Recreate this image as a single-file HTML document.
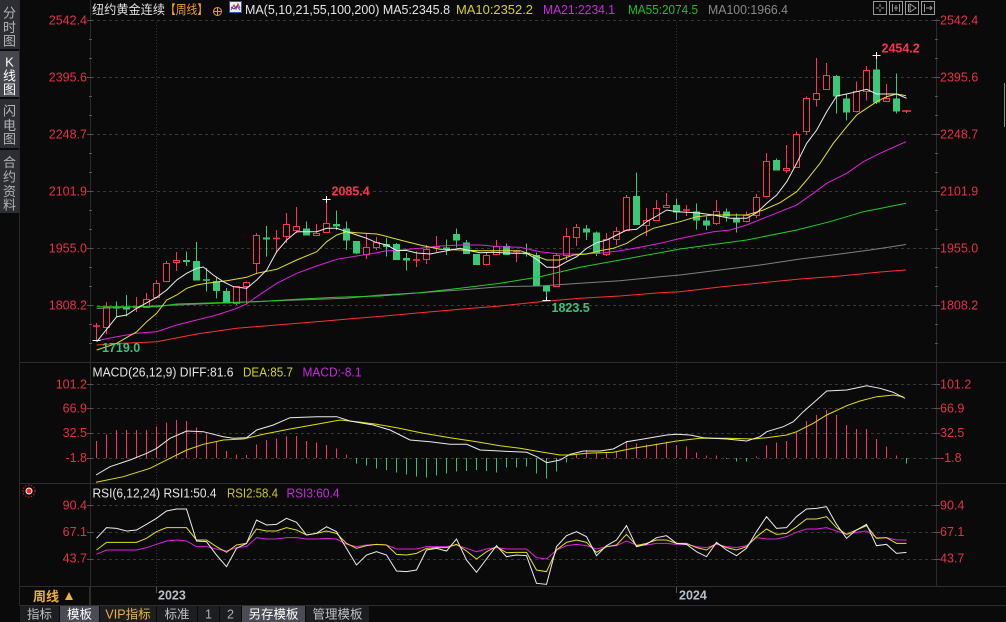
<!DOCTYPE html>
<html><head><meta charset="utf-8">
<style>
html,body{margin:0;padding:0;background:#0a0a0a;width:1006px;height:622px;overflow:hidden}
svg{display:block}
text{font-family:"Liberation Sans","Noto Sans CJK SC",sans-serif;dominant-baseline:central}
</style></head><body>
<svg width="1006" height="622" viewBox="0 0 1006 622" xmlns="http://www.w3.org/2000/svg" font-size="12.5">
<rect width="1006" height="622" fill="#0a0a0a"/>

<!-- sidebar -->
<rect x="0" y="0" width="19" height="49" fill="#2d2e33"/>
<rect x="0" y="51" width="19" height="46" fill="#45464d"/>
<rect x="0" y="99" width="19" height="49" fill="#2d2e33"/>
<rect x="0" y="150" width="19" height="63" fill="#2d2e33"/>
<path d="M19.5 0V606" stroke="#2a2a2a"/>
<g font-size="13" text-anchor="middle" fill="#b4b4b4">
<text x="9.5" y="13">分</text><text x="9.5" y="27.5">时</text><text x="9.5" y="41">图</text>
<text x="9.5" y="62" fill="#ffffff">K</text><text x="9.5" y="76" fill="#ffffff">线</text><text x="9.5" y="89.5" fill="#ffffff">图</text>
<text x="9.5" y="111">闪</text><text x="9.5" y="125.5">电</text><text x="9.5" y="139">图</text>
<text x="9.5" y="162.5">合</text><text x="9.5" y="177">约</text><text x="9.5" y="191.5">资</text><text x="9.5" y="205">料</text>
</g>

<!-- grid -->
<g stroke="#383838" stroke-dasharray="3 3" fill="none">
<path d="M91 20.5H936M91 77.5H936M91 134.5H936M91 191.5H936M91 248.5H936M91 305.5H936"/>
<path d="M91 384.5H936M91 408.5H936M91 433.5H936M91 458.5H936"/>
<path d="M91 505.5H936M91 532.5H936M91 559.5H936"/>
</g>
<path d="M156.5 22V586M676.5 22V586" stroke="#353535" stroke-dasharray="1 2"/>

<!-- axes / separators -->
<path d="M90.5 0V606M936.5 18V586" stroke="#2c2c2c"/>
<path d="M20 362.5H1006M20 483.5H1006M20 586.5H1006M20 605.5H1006" stroke="#2e2e2e"/>
<g stroke="#555">
<path d="M87 20.5H93M87 77.5H93M87 134.5H93M87 191.5H93M87 248.5H93M87 305.5H93M87 384.5H93M87 408.5H93M87 433.5H93M87 458.5H93M87 505.5H93M87 532.5H93M87 559.5H93"/>
<path d="M934 20.5H940M934 77.5H940M934 134.5H940M934 191.5H940M934 248.5H940M934 305.5H940M934 384.5H940M934 408.5H940M934 433.5H940M934 458.5H940M934 505.5H940M934 532.5H940M934 559.5H940"/>
<path d="M89 39.5H92M89 58.5H92M89 96.5H92M89 115.5H92M89 153.5H92M89 172.5H92M89 210.5H92M89 229.5H92M89 267.5H92M89 286.5H92M89 324.5H92M89 343.5H92"/>
<path d="M935 39.5H938M935 58.5H938M935 96.5H938M935 115.5H938M935 153.5H938M935 172.5H938M935 210.5H938M935 229.5H938M935 267.5H938M935 286.5H938M935 324.5H938M935 343.5H938"/>
</g>
<path d="M1004.5 83V127" stroke="#8a8a8a"/>

<!-- axis labels -->
<g fill="#e5304a" text-anchor="end">
<text x="87" y="20.5">2542.4</text><text x="87" y="77.5">2395.6</text><text x="87" y="134.5">2248.7</text>
<text x="87" y="191.5">2101.9</text><text x="87" y="248.5">1955.0</text><text x="87" y="305.5">1808.2</text>
<text x="87" y="384.5">101.2</text><text x="87" y="408.5">66.9</text><text x="87" y="433">32.5</text><text x="87" y="458">-1.8</text>
<text x="87" y="505.5">90.4</text><text x="87" y="532">67.1</text><text x="87" y="558.5">43.7</text>
</g>
<g fill="#e5304a">
<text x="940" y="20.5">2542.4</text><text x="940" y="77.5">2395.6</text><text x="940" y="134.5">2248.7</text>
<text x="940" y="191.5">2101.9</text><text x="940" y="248.5">1955.0</text><text x="940" y="305.5">1808.2</text>
<text x="940" y="384.5">101.2</text><text x="940" y="408.5">66.9</text><text x="940" y="433">32.5</text><text x="940" y="458">-1.8</text>
<text x="940" y="505.5">90.4</text><text x="940" y="532">67.1</text><text x="940" y="558.5">43.7</text>
</g>

<!-- header -->
<text x="92" y="10" fill="#e0e0e0" textLength="73" lengthAdjust="spacingAndGlyphs">纽约黄金连续</text>
<text x="165" y="10" fill="#f0a030" textLength="43" lengthAdjust="spacingAndGlyphs">【周线】</text>
<circle cx="217.5" cy="11.5" r="4" fill="none" stroke="#e0a030"/>
<path d="M213.5 11.5H221.5M217.5 7.5V15.5" stroke="#e0a030"/>
<rect x="229.5" y="1.5" width="12" height="11" fill="#f0f0f0" stroke="#3050c0"/>
<polyline points="231,10 234,5 236,9 238,4 240,8" fill="none" stroke="#e02020"/>
<polyline points="231,7 234,9 237,6 240,10" fill="none" stroke="#2040d0"/>
<text x="245" y="10" fill="#e6e6e6" textLength="205" lengthAdjust="spacingAndGlyphs">MA(5,10,21,55,100,200) MA5:2345.8</text>
<text x="456" y="10" fill="#d4d41c" textLength="77" lengthAdjust="spacingAndGlyphs">MA10:2352.2</text>
<text x="543" y="10" fill="#c828e0" textLength="72" lengthAdjust="spacingAndGlyphs">MA21:2234.1</text>
<text x="628" y="10" fill="#22c022" textLength="70" lengthAdjust="spacingAndGlyphs">MA55:2074.5</text>
<text x="708" y="10" fill="#8a8a8a" textLength="80" lengthAdjust="spacingAndGlyphs">MA100:1966.4</text>

<!-- top right icons -->
<g fill="none" stroke="#9a9a9a">
<rect x="873.5" y="1.5" width="13" height="13"/><rect x="889.5" y="1.5" width="13" height="13"/>
<rect x="905.5" y="1.5" width="13" height="13"/><rect x="921.5" y="1.5" width="13" height="13"/>
<path d="M880 4V7M880 9V12M876 8H879M881 8H884"/>
<path d="M892.5 4V12M899.5 4V12M894 8H898M896 5V11"/>
<path d="M908.5 4V12M910 4L916 8L910 12Z"/>
<path d="M924.5 4V12M926 8H932M930 6L932 8L930 10"/>
</g>

<!-- candles: green -->
<g stroke="#38c878" fill="none">
<path d="M116.5 301.5V316.5M126.5 295V316.5M186.5 251.5V266M196.5 242V280.5M206.5 268V291.5M216.5 277.5V298.5M226.5 288V303.5M266.5 226V256.5M306.5 221.5V235.5M336.5 210.5V230M346.5 221.5V250M356.5 241V254M386.5 238V256.5M396.5 243V260M406.5 253V270.5M446.5 239.5V255M456.5 228.5V247.5M466.5 240V254M476.5 254V265M506.5 243.5V255M526.5 243.5V256.5M536.5 252.5V286M546.5 285V300M586.5 225V240M596.5 231.5V256M636.5 172.5V225M676.5 198.5V220M696.5 203.5V229.5M706.5 216.5V230M726.5 208.5V221.5M736.5 213.5V232.5M776.5 158.5V170.5M836.5 75V113.5M846.5 93.5V120.5M876.5 55V104M896.5 73.5V113.5"/>
<path d="M203 280H210M523 253.5H530" stroke-width="1.5"/>
</g>
<g fill="#38c878">
<rect x="113" y="306.5" width="7" height="2"/><rect x="123" y="306.5" width="7" height="3"/>
<rect x="183" y="260" width="7" height="2"/><rect x="193" y="261" width="7" height="19.5"/>
<rect x="213" y="281" width="7" height="10"/><rect x="223" y="291" width="7" height="12.5"/>
<rect x="263" y="237.5" width="7" height="2"/><rect x="303" y="228.5" width="7" height="7"/>
<rect x="333" y="224" width="7" height="2.5"/><rect x="343" y="228.5" width="7" height="12"/>
<rect x="353" y="241" width="7" height="12.5"/><rect x="383" y="244" width="7" height="3"/>
<rect x="393" y="244" width="7" height="16"/><rect x="403" y="258" width="7" height="2.5"/>
<rect x="443" y="247.5" width="7" height="2"/><rect x="453" y="234" width="7" height="6.5"/>
<rect x="463" y="242.5" width="7" height="11.5"/><rect x="473" y="254" width="7" height="11"/>
<rect x="503" y="246" width="7" height="9"/><rect x="533" y="255" width="7" height="31"/>
<rect x="543" y="286" width="7" height="5.5"/><rect x="583" y="228.5" width="7" height="4"/>
<rect x="593" y="232.5" width="7" height="21.5"/><rect x="633" y="196" width="7" height="29"/>
<rect x="673" y="205" width="7" height="7.5"/><rect x="693" y="211.5" width="7" height="9"/>
<rect x="703" y="220.5" width="7" height="5"/><rect x="723" y="211.5" width="7" height="5"/>
<rect x="733" y="218.5" width="7" height="4"/><rect x="773" y="160" width="7" height="10.5"/>
<rect x="833" y="76" width="7" height="20.5"/><rect x="843" y="98.5" width="7" height="14"/>
<rect x="873" y="69.5" width="7" height="33"/><rect x="893" y="98.5" width="7" height="13"/>
</g>

<!-- candles: red -->
<g stroke="#ff3355" fill="none">
<path d="M96.5 323V340M106.5 302V334M136.5 297V312M146.5 293V308M156.5 280V297.5M166.5 261V282M176.5 252V271M236.5 286V305M246.5 281.5V304M256.5 233V274M276.5 230V253M286.5 213V243M296.5 207V233M316.5 224V236M326.5 199V233M366.5 233V259M376.5 237V250M416.5 251V267M426.5 245V264M436.5 236V252M486.5 253V265.5M496.5 240V255M516.5 250V262M556.5 254V287M566.5 228V260M576.5 224V246M606.5 233V256M616.5 227V245M626.5 195V230.5M646.5 208V236M656.5 200V221M666.5 193V207M686.5 205V216M716.5 200V225M746.5 211.5V222.5M756.5 194V218M766.5 153V196.5M786.5 145V173M796.5 131.5V167.5M806.5 96.5V135M816.5 58V106.5M826.5 63V89.5M856.5 81.5V112.5M866.5 66V100.5M886.5 84V101.5M906.5 110V113"/>
<path d="M93 326H100M133 307.5H140M273 238.5H280M413 260H420M433 247H440M513 251.5H520M683 210H690M902 111H911" stroke-width="1.5"/>
</g>
<g stroke="#ff3355" fill="#0a0a0a">
<rect x="103.5" y="307.5" width="6" height="20"/><rect x="143.5" y="299.5" width="6" height="8"/>
<rect x="153.5" y="283.5" width="6" height="14"/><rect x="163.5" y="263.5" width="6" height="18"/>
<rect x="173.5" y="260.5" width="6" height="2"/><rect x="233.5" y="286.5" width="6" height="17"/>
<rect x="243.5" y="282.5" width="6" height="4"/><rect x="253.5" y="235.5" width="6" height="28"/>
<rect x="283.5" y="224.5" width="6" height="12"/><rect x="293.5" y="226.5" width="6" height="4"/>
<rect x="313.5" y="233.5" width="6" height="2"/><rect x="323.5" y="223.5" width="6" height="9"/>
<rect x="363.5" y="247.5" width="6" height="7"/><rect x="373.5" y="242.5" width="6" height="5"/>
<rect x="423.5" y="249.5" width="6" height="10"/><rect x="483.5" y="255.5" width="6" height="9"/>
<rect x="493.5" y="246.5" width="6" height="8"/><rect x="553.5" y="255.5" width="6" height="31"/>
<rect x="563.5" y="236.5" width="6" height="19"/><rect x="573.5" y="227.5" width="6" height="10"/>
<rect x="603.5" y="239.5" width="6" height="15"/><rect x="613.5" y="231.5" width="6" height="8"/>
<rect x="623.5" y="197.5" width="6" height="33"/><rect x="643.5" y="220.5" width="6" height="5"/>
<rect x="653.5" y="208.5" width="6" height="12"/><rect x="663.5" y="205.5" width="6" height="2"/>
<rect x="713.5" y="211.5" width="6" height="12"/><rect x="743.5" y="215.5" width="6" height="6"/>
<rect x="753.5" y="197.5" width="6" height="18"/><rect x="763.5" y="161.5" width="6" height="35"/>
<rect x="783.5" y="168.5" width="6" height="2"/><rect x="793.5" y="134.5" width="6" height="33"/>
<rect x="803.5" y="98.5" width="6" height="33"/><rect x="813.5" y="93.5" width="6" height="6"/>
<rect x="823.5" y="75.5" width="6" height="14"/><rect x="853.5" y="91.5" width="6" height="20"/>
<rect x="863.5" y="70.5" width="6" height="21"/><rect x="883.5" y="98.5" width="6" height="3"/>
</g>

<!-- MA lines -->
<g fill="none" stroke-width="1">
<polyline stroke="#ff3030" points="96.7,345 118,343.5 156.7,341.7 196.7,334 236.7,328.3 276.7,325 316.7,321.7 356.7,318.3 385,316 420,312.7 460,309.3 500,306 540,301.7 580,298.3 620,296 660,292.7 680,291.7 720,287 760,283 800,279 840,276 880,272 906,270"/>
<polyline stroke="#808080" points="96.7,308.5 176.7,305 256.7,301.5 346.7,298.3 380,295 420,292.7 460,290 500,286.7 540,286 580,283.3 620,280.7 660,276.7 680,275 720,270 760,265 800,259 840,254 870,250 906,244.5"/>
<polyline stroke="#20d020" points="96.7,306.7 156.7,306.7 176.7,304 216.7,302.7 256.7,301.7 296.7,299.3 336.7,297.3 380,296 420,292.7 460,288.3 500,283.3 540,276.7 580,267.3 620,260 660,252.7 680,249 746.7,240 796.7,230 830,221.7 863.3,211.7 906,203.3"/>
<polyline stroke="#e020e0" points="96.7,340.7 116.7,336.7 136.7,333.3 156.7,331.7 176.7,325 196.7,320 216.7,315 236.7,308.3 246.7,304 256.7,296.7 276.7,283.3 296.7,273.3 316.7,266 336.7,259.3 356.7,256 376.7,252.7 385,251 400,250 420,248.3 440,246 460,245 480,245 500,246.7 520,247.3 540,251.7 560,254 580,254 600,253.3 620,250.7 640,247.3 660,243.3 680,238.5 713.3,231.7 730,230 746.7,225 763.3,218.3 780,211.7 796.7,205 813.3,193.3 826.7,183.3 846.7,173.3 863.3,161.7 880,153.3 906,141.7"/>
<polyline stroke="#e0e020" points="96.7,350 116.7,343.3 136.7,331.7 146.7,321.7 156.7,313.3 166.7,300 176.7,295 186.7,288.3 196.7,285 206.7,283.3 226.7,280.7 246.7,277.3 256.7,273.3 276.7,269.3 296.7,260 316.7,251.7 326.7,241.7 336.7,235 346.7,231.7 356.7,232.7 376.7,234 385,236 400,240 420,245 440,249.3 460,250 480,250.7 500,250.7 520,250.7 533.3,255 546.7,260 560,260 573.3,255 586.7,254 600,250.7 613.3,248.3 626.7,243.3 640,235 653.3,228.3 666.7,225 680,221.7 696.7,216.7 713.3,215 746.7,215 763.3,210 780,202.7 796.7,191.7 806.7,180 820,163.3 833.3,143.3 846.7,126.7 856.7,115 866.7,108.3 876.7,101.7 886.7,96.7 896.7,94 906,95.7"/>
<polyline stroke="#ececec" points="96.7,341.7 116.7,316.7 126.7,315 136.7,308.3 156.7,297.3 166.7,290 176.7,280 186.7,273.3 196.7,268.3 203.3,267 213.3,275 223.3,281.7 233.3,286.7 246.7,288.3 256.7,280 266.7,270 276.7,251.7 286.7,240 296.7,231.7 316.7,231.7 326.7,228.3 336.7,228.3 346.7,231.7 356.7,235 366.7,238.3 376.7,242.7 386.7,245 396.7,250.5 406.7,250.5 416.7,253 430,254 446.7,250.7 460,248.3 470,250.7 480,252.7 493,252.3 513,253.3 526.7,253.3 536.7,259.3 546.7,267.3 556.7,267.3 566.7,261.7 576.7,256.7 586.7,248.3 596.7,242.7 606.7,240 616.7,235 626.7,230 636.7,229.3 646.7,221.7 656.7,216 666.7,210 676.7,211.7 696.7,212.7 713.3,215 730,218.3 746.7,218.3 756.7,212.7 766.7,203.3 776.7,195 786.7,181.7 796.7,163.3 806.7,143.3 816.7,130 826.7,111.7 836.7,96 846.7,94 856.7,91.7 866.7,89.3 876.7,94 886.7,94 896.7,94 906.7,98.3"/>
</g>

<!-- high/low markers -->
<path d="M322.5 199.5H330.5M326.5 196V203M872.5 55.5H880.5M876.5 52V59M542.5 300.5H550.5M546.5 297V300M92.5 340.5H100.5" stroke="#ffffff"/>
<g font-weight="bold">
<text x="331.5" y="191.5" fill="#ff3050">2085.4</text>
<text x="881.5" y="48.5" fill="#ff3050">2454.2</text>
<text x="551.5" y="308" fill="#3cc080">1823.5</text>
<text x="102" y="348" fill="#3cc080">1719.0</text>
</g>

<!-- MACD -->
<text x="92.5" y="372.5" fill="#e6e6e6" textLength="141" lengthAdjust="spacingAndGlyphs">MACD(26,12,9) DIFF:81.6</text>
<text x="243" y="372.5" fill="#d4d41c" textLength="50" lengthAdjust="spacingAndGlyphs">DEA:85.7</text>
<text x="302.5" y="372.5" fill="#c828e0" textLength="59" lengthAdjust="spacingAndGlyphs">MACD:-8.1</text>
<path stroke="#ff3355" d="M96.5 458V441M106.5 458V434.5M116.5 458V430M126.5 458V430M136.5 458V430M146.5 458V430M156.5 458V426.5M166.5 458V422.5M176.5 458V420M186.5 458V421M196.5 458V427.5M206.5 458V434M216.5 458V441.5M226.5 458V451M236.5 458V454.5M246.5 458V455M256.5 458V444.5M266.5 458V440M276.5 458V438.5M286.5 458V436.5M296.5 458V436M306.5 458V441M316.5 458V442.5M326.5 458V445M336.5 458V448.5M346.5 458V454.5M576.5 458V454.5M586.5 458V450M596.5 458V453.5M606.5 458V452.5M616.5 458V451M626.5 458V441M636.5 458V443.5M646.5 458V444.5M656.5 458V443.5M666.5 458V441.5M676.5 458V445M686.5 458V446.5M696.5 458V452.5M706.5 458V455.5M716.5 458V455.5M756.5 458V456.5M766.5 458V445.5M776.5 458V442.5M786.5 458V441M796.5 458V432.5M806.5 458V421M816.5 458V415M826.5 458V410M836.5 458V415M846.5 458V425M856.5 458V429M866.5 458V429M876.5 458V439M886.5 458V446.5M896.5 458V455.5"/>
<path stroke="#30c070" d="M356.5 458V463.5M366.5 458V465.5M376.5 458V468.5M386.5 458V470M396.5 458V472.5M406.5 458V474.5M416.5 458V476.5M426.5 458V477.5M436.5 458V475.5M446.5 458V473.5M456.5 458V471.5M466.5 458V471M476.5 458V470M486.5 458V471M496.5 458V472.5M506.5 458V467.5M516.5 458V467.5M526.5 458V466.5M536.5 458V473.5M546.5 458V478.5M556.5 458V471.5M566.5 458V462.5M726.5 458V459M736.5 458V461.5M746.5 458V461.5M906.5 458V463.5"/>
<polyline fill="none" stroke="#e0e000" points="96,482.3 123.3,476.7 150,468.3 170,458.3 186.7,450 203.3,444.3 223.3,440 243.3,439 263.3,434.3 290,429 316.7,424.3 340,420 356.7,421.7 376.7,424.3 396.7,427.7 423.3,433.3 450,437.7 476.7,441.7 500,445.7 520,448.3 540,451.7 560,455 570,455 586.7,453.3 613.3,452.3 633.3,448.3 653.3,445 676.7,441 700,438.3 726.7,438.3 753.3,439 766.7,437.7 786.7,435 796.7,431.7 813.3,423.3 826.7,415 846.7,405.7 860,401 876.7,396.7 893.3,395 903.3,396.7"/>
<polyline fill="none" stroke="#ececec" points="96,475 110,466.7 130,460 146.7,453.3 156.7,448.3 170,438.3 186.7,431 203.3,431.7 223.3,436.7 233.3,438.3 246.7,437.7 256.7,430 273.3,425 290,417.7 316.7,416.7 336.7,416.7 350,421 373.3,425 390,430 410,440 430,441.7 450,444.3 466.7,444.3 480,450 500,451 526.7,452.3 536.7,456.7 546.7,462.7 560,460 570,454.3 583.3,451 600,451 613.3,449 626.7,441.7 643.3,439 666.7,435 676.7,434.3 690,435 703.3,437.7 726.7,439 746.7,441 760,436.7 766.7,431.7 783.3,426.7 793.3,421.7 803.3,411.7 816.7,400 826.7,391 846.7,390 866.7,385.7 880,388.3 893.3,392.3 905,398.3"/>

<!-- RSI -->
<circle cx="29" cy="491" r="6" fill="none" stroke="#e02020" stroke-dasharray="1.5 1.5"/>
<circle cx="29" cy="491" r="3" fill="#ff2020" stroke="#ffffff"/>
<text x="92.5" y="493.5" fill="#e6e6e6" textLength="124" lengthAdjust="spacingAndGlyphs">RSI(6,12,24) RSI1:50.4</text>
<text x="227" y="493.5" fill="#c8c820" textLength="51" lengthAdjust="spacingAndGlyphs">RSI2:58.4</text>
<text x="286.5" y="493.5" fill="#c828e0" textLength="53" lengthAdjust="spacingAndGlyphs">RSI3:60.4</text>
<g transform="translate(96.5 485) scale(10 0.333333)" fill="none">
<polyline vector-effect="non-scaling-stroke" stroke="#e020e0" points="0,208 1,195 2,195 3,195 4,195 5,188 6,178 7,168 8,165 9,168 10,185 11,185 12,192 13,198 14,188 15,185 16,158 17,162 18,162 19,158 20,158 21,162 22,162 23,160 24,162 25,178 26,185 27,180 28,178 29,180 30,192 31,192 32,192 33,185 34,185 35,185 36,180 37,190 38,200 39,192 40,188 41,192 42,192 43,192 44,218 45,222 46,195 47,182 48,178 49,182 50,192 51,185 52,182 53,168 54,180 55,180 56,175 57,175 58,178 59,178 60,185 61,188 62,178 63,185 64,188 65,182 66,158 67,162 68,162 69,155 70,142 71,132 72,132 73,128 74,138 75,148 76,142 77,138 78,158 79,158 80,165 81,165"/>
<polyline vector-effect="non-scaling-stroke" stroke="#e0e020" points="0,195 1,172 2,172 3,172 4,172 5,160 6,140 7,128 8,128 9,128 10,165 11,165 12,185 13,202 14,180 15,175 16,132 17,138 18,138 19,128 20,135 21,150 22,145 23,138 24,145 25,175 26,190 27,182 28,178 29,180 30,208 31,210 32,205 33,190 34,188 35,188 36,178 37,198 38,222 39,200 40,185 41,203 42,202 43,202 44,255 45,260 46,195 47,172 48,165 49,172 50,202 51,185 52,180 53,148 54,182 55,175 56,165 57,165 58,175 59,175 60,188 61,195 62,175 63,188 64,195 65,185 66,155 67,132 68,148 69,145 70,125 71,102 72,102 73,95 74,128 75,148 76,135 77,122 78,160 79,158 80,175 81,175"/>
<polyline vector-effect="non-scaling-stroke" stroke="#ececec" points="0,160 1,128 2,130 3,138 4,135 5,118 6,100 7,78 8,72 9,72 10,168 11,170 12,210 13,245 14,190 15,175 16,105 17,120 18,118 19,100 20,112 21,150 22,145 23,125 24,140 25,190 26,240 27,210 28,200 29,210 30,258 31,260 32,255 33,195 34,190 35,198 36,162 37,225 38,262 39,222 40,182 41,215 42,210 43,212 44,295 45,298 46,185 47,152 48,140 49,155 50,212 51,182 52,165 53,122 54,185 55,178 56,158 57,152 58,175 59,178 60,200 61,215 62,172 63,195 64,212 65,190 66,140 67,95 68,130 69,128 70,95 71,72 72,70 73,65 74,118 75,160 76,135 77,118 78,182 79,178 80,205 81,202"/>
</g>

<!-- date axis -->
<path d="M89.5 586V605" stroke="#2e2e2e"/>
<path d="M156.5 587V593M676.5 587V593" stroke="#555"/>
<text x="33" y="596.5" fill="#f0b040" font-weight="bold" font-size="13">周线</text>
<polygon points="65,600 73,600 69,592" fill="#f0b040"/>
<text x="158" y="595.5" fill="#b4c0cc" font-weight="bold">2023</text>
<text x="679" y="595.5" fill="#b4c0cc" font-weight="bold">2024</text>

<!-- toolbar -->
<rect x="20" y="606" width="39" height="16" fill="#1d1e22"/>
<rect x="60" y="606" width="39" height="16" fill="#4a4b55"/>
<rect x="100" y="606" width="56" height="16" fill="#1d1e22"/>
<rect x="157" y="606" width="40" height="16" fill="#1d1e22"/>
<rect x="198" y="606" width="21" height="16" fill="#1d1e22"/>
<rect x="220" y="606" width="21" height="16" fill="#1d1e22"/>
<rect x="242" y="606" width="63" height="16" fill="#4a4b55"/>
<rect x="306" y="606" width="63" height="16" fill="#1d1e22"/>
<g text-anchor="middle" font-size="12.5">
<text x="39.5" y="614.5" fill="#c0c0c0">指标</text>
<text x="79.5" y="614.5" fill="#ffffff">模板</text>
<text x="128" y="614.5" fill="#f0b040">VIP指标</text>
<text x="177" y="614.5" fill="#c0c0c0">标准</text>
<text x="208.5" y="614.5" fill="#b0b0b0">1</text>
<text x="230.5" y="614.5" fill="#b0b0b0">2</text>
<text x="273.5" y="614.5" fill="#ffffff">另存模板</text>
<text x="337.5" y="614.5" fill="#c0c0c0">管理模板</text>
</g>
</svg>
</body></html>
